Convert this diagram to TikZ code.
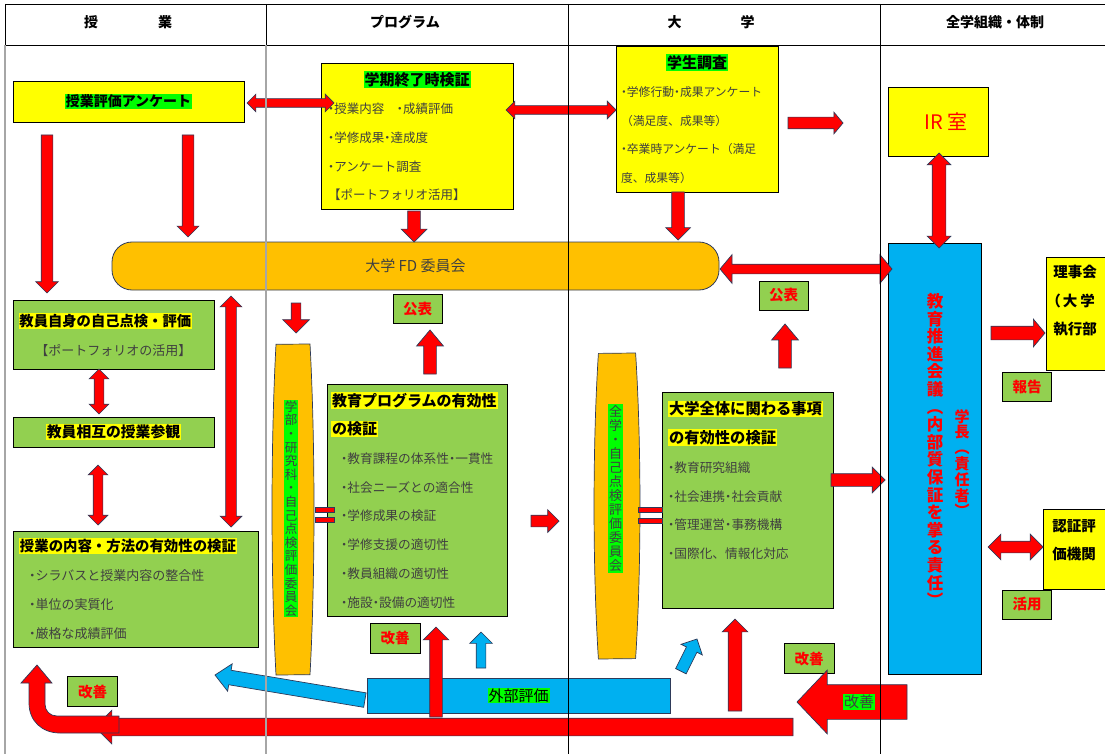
\documentclass[tikz,border=0pt]{standalone}
\usepackage{fontspec}
\setmainfont{Noto Sans CJK JP}
\usetikzlibrary{shapes.arrows}

\definecolor{boxyellow}{HTML}{FFFF00}
\definecolor{boxgreen}{HTML}{92D050}
\definecolor{fdorange}{HTML}{FFC000}
\definecolor{kaigiblue}{HTML}{00B0F0}
\definecolor{hlgreen}{HTML}{00FF00}
\definecolor{arrowedge}{HTML}{2E3A59}
\definecolor{textgray}{HTML}{404040}
\definecolor{gridgray}{HTML}{A6A6A6}

\newcommand\hly[1]{{\setlength\fboxsep{1pt}\colorbox{boxyellow}{#1}}}
\newcommand\hlg[1]{{\setlength\fboxsep{1pt}\colorbox{hlgreen}{#1}}}
\newcommand\chuten{\makebox[.5em]{・}}

\begin{document}
\begin{tikzpicture}[x=1pt, y=-1pt,
  every node/.style={font=\fontsize{13}{29}\selectfont},
  hdr/.style={font=\bfseries\fontsize{14}{14}\selectfont},
  box/.style={draw=black, line width=0.8pt, inner sep=0pt},
  ybox/.style={box, fill=boxyellow},
  gbox/.style={box, fill=boxgreen, text=textgray},
  tag/.style={box, fill=boxgreen, minimum width=49pt, minimum height=29pt,
    text=red, font=\bfseries\fontsize{14.5}{14.5}\selectfont},
  capsule/.style={draw=arrowedge, line width=0.7pt, fill=fdorange},
  arrowbase/.style={draw=arrowedge, line width=0.7pt, fill=red, inner xsep=0pt, outer sep=0pt},
  sarrow/.style 2 args={arrowbase, single arrow, single arrow head indent=0pt, anchor=tip,
    minimum width=#1, inner ysep=#2/2, single arrow head extend=(#1-#2)/2},
  darrow/.style 2 args={arrowbase, double arrow, double arrow head indent=0pt,
    minimum width=#1, inner ysep=#2/2, double arrow head extend=(#1-#2)/2},
  eqbar/.style={arrowbase, rectangle, inner sep=0pt, minimum width=19pt, minimum height=5pt},
  vtext/.style={inner sep=1pt, align=center}
]
\useasboundingbox (0,0) rectangle (1105,754);

% Intestazione delle colonne
\node[hdr] (hJugyo) at (128,22) {授\hspace{60pt}業};
\node[hdr] (hProgram) at (405,22) {プログラム};
\node[hdr] (hDaigaku) at (711,22) {大\hspace{59pt}学};
\node[hdr] (hZengaku) at (995,22) {全学組織・体制};

% Riquadri gialli in alto
\node[ybox, minimum width=231pt, minimum height=41pt, font=\bfseries\fontsize{14}{14}\selectfont]
  (anketo) at (128.5,101.5) {\hlg{授業評価アンケート}};
\node[ybox, minimum width=192pt, minimum height=146pt, text width=178pt, inner xsep=7pt,
  align=left, text=textgray, font=\fontsize{12.5}{28.7}\selectfont] (gakki) at (417,136)
  {\makebox[178pt]{\bfseries\fontsize{15}{28.7}\selectfont\color{black}\hlg{学期終了時検証}}\\
   \chuten{}授業内容　\chuten{}成績評価\\
   \chuten{}学修成果\chuten{}達成度\\
   \chuten{}アンケート調査\\
   【ポートフォリオ活用】};
\node[ybox, minimum width=162pt, minimum height=146pt, text width=152pt, inner xsep=5pt,
  align=left, text=textgray, font=\fontsize{11.8}{28.5}\selectfont] (gakusei) at (697,119)
  {\makebox[152pt]{\bfseries\fontsize{15}{28.5}\selectfont\color{black}\hlg{学生調査}}\\
   \chuten{}学修行動\chuten{}成果アンケート\\
   （満足度、成果等）\\
   \chuten{}卒業時アンケート（満足\\
   度、成果等）};
\node[ybox, minimum width=100pt, minimum height=69pt, text=red, font=\fontsize{20}{20}\selectfont]
  (irshitsu) at (938,121.5) {\hspace{16pt}IR 室};

% FD e consiglio
\node[box, draw=arrowedge, fill=fdorange, rounded corners=20pt, minimum width=607pt,
  minimum height=48pt, text=textgray, font=\fontsize{15}{15}\selectfont]
  (fd) at (415.5,266) {大学 FD 委員会};
\node[box, fill=kaigiblue, minimum width=93pt, minimum height=431pt] (kaigi) at (934.5,458.5) {};
\node[vtext, text=red, font=\bfseries\fontsize{16.5}{17.6}\selectfont] (kaiginame) at (935,450)
  {教\\育\\推\\進\\会\\議\\︵\\内\\部\\質\\保\\証\\を\\掌\\る\\責\\任\\︶};
\node[vtext, text=red, font=\bfseries\fontsize{15}{15.8}\selectfont] (gakucho) at (962,463)
  {学\\長\\︵\\責\\任\\者\\︶};

% Organi esterni
\node[ybox, anchor=north west, minimum width=80pt, minimum height=113pt, text width=66pt,
  inner xsep=7pt, align=left, font=\bfseries\fontsize{14.5}{28.5}\selectfont]
  (rijikai) at (1046,257) {理事会\\\hspace*{-7pt}（\hspace{2pt}大\hspace{3pt}学\\執行部\\[-1pt]\mbox{}};
\node[ybox, anchor=north west, minimum width=80pt, minimum height=80pt, text width=62pt,
  inner xsep=9pt, align=left, font=\bfseries\fontsize{14.5}{28.5}\selectfont]
  (ninsho) at (1043,509) {認証評\\価機関\\[-8.5pt]\mbox{}};
\node[tag] (hokoku) at (1027,387) {報告};
\node[tag] (katsuyo) at (1027,604.5) {活用};

% Colonna授業
\node[gbox, minimum width=201pt, minimum height=69pt, text width=190pt, inner xsep=5.5pt,
  align=left] (jiko) at (113.5,334.5)
  {{\bfseries\fontsize{14.3}{29}\selectfont\color{black}\hly{教員自身の自己点検・評価}}\\
   \makebox[190pt]{【ポートフォリオの活用】}};
\node[gbox, minimum width=201pt, minimum height=30pt, text=black,
  font=\bfseries\fontsize{14.8}{14.8}\selectfont] (sogo) at (113.5,432)
  {\hly{教員相互の授業参観}\hspace{23pt}};
\node[gbox, minimum width=245pt, minimum height=116pt, text width=233pt, inner xsep=6pt,
  align=left] (naiyo) at (135.5,589)
  {{\bfseries\fontsize{14.4}{29}\selectfont\color{black}\hly{授業の内容・方法の有効性の検証}}\\
   \hspace*{10pt}\chuten{}シラバスと授業内容の整合性\\
   \hspace*{10pt}\chuten{}単位の実質化\\
   \hspace*{10pt}\chuten{}厳格な成績評価};

% Capsule dei comitati
\draw[capsule] (310,344) arc[start angle=-35.9, end angle=35.9, x radius=21, y radius=282]
  -- (276,675) arc[start angle=144.1, end angle=215.9, x radius=21, y radius=282] -- cycle;
\node[vtext, fill=hlgreen, text=textgray, font=\fontsize{12.5}{13.6}\selectfont] (gakubu) at (291,508.5)
  {学\\部\\・\\研\\究\\科\\・\\自\\己\\点\\検\\評\\価\\委\\員\\会};
\draw[capsule] (635.6,353) arc[start angle=-35.9, end angle=35.9, x radius=23, y radius=260.6]
  -- (598.4,659) arc[start angle=144.1, end angle=215.9, x radius=23, y radius=260.6] -- cycle;
\node[vtext, fill=hlgreen, text=textgray, font=\fontsize{13}{14}\selectfont] (zengaku) at (615.5,488.5)
  {全\\学\\・\\自\\己\\点\\検\\評\\価\\委\\員\\会};

% Verifiche
\node[gbox, minimum width=180pt, minimum height=232pt, text width=172pt, inner xsep=4pt,
  align=left, font=\fontsize{12.7}{28.7}\selectfont] (kyoiku) at (417,500)
  {{\bfseries\fontsize{15}{28.7}\selectfont\color{black}\hly{教育プログラムの有効性}\\\hly{の検証}}\\
   \hspace*{10pt}\chuten{}教育課程の体系性\chuten{}一貫性\\
   \hspace*{10pt}\chuten{}社会ニーズとの適合性\\
   \hspace*{10pt}\chuten{}学修成果の検証\\
   \hspace*{10pt}\chuten{}学修支援の適切性\\
   \hspace*{10pt}\chuten{}教員組織の適切性\\
   \hspace*{10pt}\chuten{}施設\chuten{}設備の適切性};
\node[gbox, minimum width=171pt, minimum height=216pt, text width=159pt, inner xsep=6pt,
  align=left, font=\fontsize{12.7}{28.8}\selectfont] (zentai) at (747.5,500)
  {{\bfseries\fontsize{15.3}{28.8}\selectfont\color{black}\hly{大学全体に関わる事項}\\\hly{の有効性の検証}}\\
   \chuten{}教育研究組織\\
   \chuten{}社会連携\chuten{}社会貢献\\
   \chuten{}管理運営\chuten{}事務機構\\
   \chuten{}国際化、情報化対応\\[12pt]\mbox{}};

% Etichette
\node[tag] (kohyo1) at (417.5,309) {公表};
\node[tag] (kohyo2) at (783.5,295.5) {公表};
\node[tag, minimum width=50pt, minimum height=30pt] (kaizen1) at (395,638) {改善};
\node[tag, minimum width=50pt, minimum height=30pt] (kaizen2) at (92.5,691.5) {改善};
\node[tag, minimum width=50pt, minimum height=30pt] (kaizen3) at (809,658.5) {改善};
\node[box, draw=arrowedge, fill=kaigiblue, minimum width=303pt, minimum height=35pt,
  font=\fontsize{15}{15}\selectfont] (gaibu) at (518.5,695.5) {\hlg{外部評価}};

% Frecce
\node[darrow={17}{8}, minimum height=87pt] (aAnkGakki) at (290.5,103) {};
\node[darrow={17}{8}, minimum height=110pt] (aGakkiGakusei) at (561,110) {};
\node[sarrow={21}{11}, minimum height=55pt, single arrow tip angle=100] (aGakuseiIR) at (843,123) {};
\node[sarrow={22}{11}, rotate=-90, minimum height=158pt] (aAnkJiko) at (47,293) {};
\node[sarrow={21}{11}, rotate=-90, minimum height=102pt] (aAnkFD) at (188,237) {};
\node[sarrow={25}{12}, rotate=-90, minimum height=31pt] (aGakkiFD) at (414,242) {};
\node[sarrow={24}{12}, rotate=-90, minimum height=48pt] (aGakuseiFD) at (678,240) {};
\node[darrow={23}{13}, rotate=90, minimum height=95pt] (aIRKaigi) at (939,200.5) {};
\node[darrow={28}{9}, minimum height=172pt, double arrow tip angle=100] (aFDKaigi) at (806,269) {};
\node[sarrow={26}{9}, rotate=-90, minimum height=30pt] (aFDGakubu) at (296,333) {};
\node[sarrow={26}{12}, rotate=90, minimum height=44pt, single arrow tip angle=80] (aKyoikuKohyo) at (430,330) {};
\node[sarrow={26}{12}, rotate=90, minimum height=44pt, single arrow tip angle=80] (aZentaiKohyo) at (785,324) {};
\node[darrow={19}{9}, rotate=90, minimum height=45pt] (aJikoSogo) at (99,391.5) {};
\node[darrow={19}{9}, rotate=90, minimum height=60pt] (aSogoNaiyo) at (98,495) {};
\node[darrow={21}{10}, rotate=90, minimum height=231pt] (aFDNaiyo) at (231,411.5) {};
\node[eqbar] (eqGakubu1) at (324.5,510) {};
\node[eqbar] (eqGakubu2) at (324.5,520) {};
\node[eqbar, minimum width=24pt] (eqZengaku1) at (650,510) {};
\node[eqbar, minimum width=24pt] (eqZengaku2) at (650,520.5) {};
\node[sarrow={22}{11}, minimum height=28pt] (aKyoikuRight) at (559,521) {};
\node[sarrow={25}{12}, minimum height=54pt] (aZentaiKaigi) at (885,480) {};
\node[sarrow={27}{13}, minimum height=54pt, single arrow tip angle=100] (aKaigiRiji) at (1045,333) {};
\node[darrow={25}{11}, minimum height=55pt] (aKaigiNinsho) at (1015.5,547) {};
\node[sarrow={25}{12}, rotate=90, minimum height=90pt] (aGaibuKyoiku) at (436,627) {};
\node[sarrow={22}{9}, rotate=90, fill=kaigiblue, minimum height=36pt] (aGaibuUp) at (481,632) {};
\node[sarrow={25}{13}, rotate=90, minimum height=92pt] (aKaizenZentai) at (735,619) {};
\node[sarrow={23}{11}, rotate=63.4, fill=kaigiblue, minimum height=36pt] (aGaibuZentai) at (697,639) {};
\node[sarrow={27}{14}, rotate=170.5, fill=kaigiblue, minimum height=152pt, single arrow tip angle=85] (aGaibuNaiyo) at (215,675) {};
\node[sarrow={63}{34}, rotate=180, minimum height=110pt, single arrow tip angle=93] (aKaizenBig) at (797,702) {};
\node[font=\fontsize{15}{15}\selectfont, text=textgray] (kaizenMark) at (859,702) {\hlg{改善}};
\node[sarrow={33}{17}, rotate=180, minimum height=698pt] (aKaizenBar) at (95,727) {};
% Freccia piegata verso l'alto
\draw[arrowbase] (119,716) -- (57,716) .. controls (50,716) and (45,711) .. (45,704) -- (45,683)
  -- (52,683) -- (37,665) -- (21,683) -- (29,683) -- (29,703)
  .. controls (29,721) and (42,733) .. (60,733) -- (119,733) -- cycle;

% Griglia della tabella
\draw[line width=0.8pt] (5,4) -- (1105,4);
\draw[line width=0.8pt] (5,45) -- (1105,45);
\draw[line width=0.8pt] (5,4) -- (5,45);
\draw[gridgray, line width=1.2pt] (5,45) -- (5,754);
\draw[line width=0.8pt] (266,4) -- (266,45);
\draw[gridgray, line width=1.5pt] (266,45) -- (266,754);
\draw[line width=0.8pt] (568,4) -- (568,754);
\draw[line width=0.8pt] (880,4) -- (880,754);

\end{tikzpicture}
\end{document}
